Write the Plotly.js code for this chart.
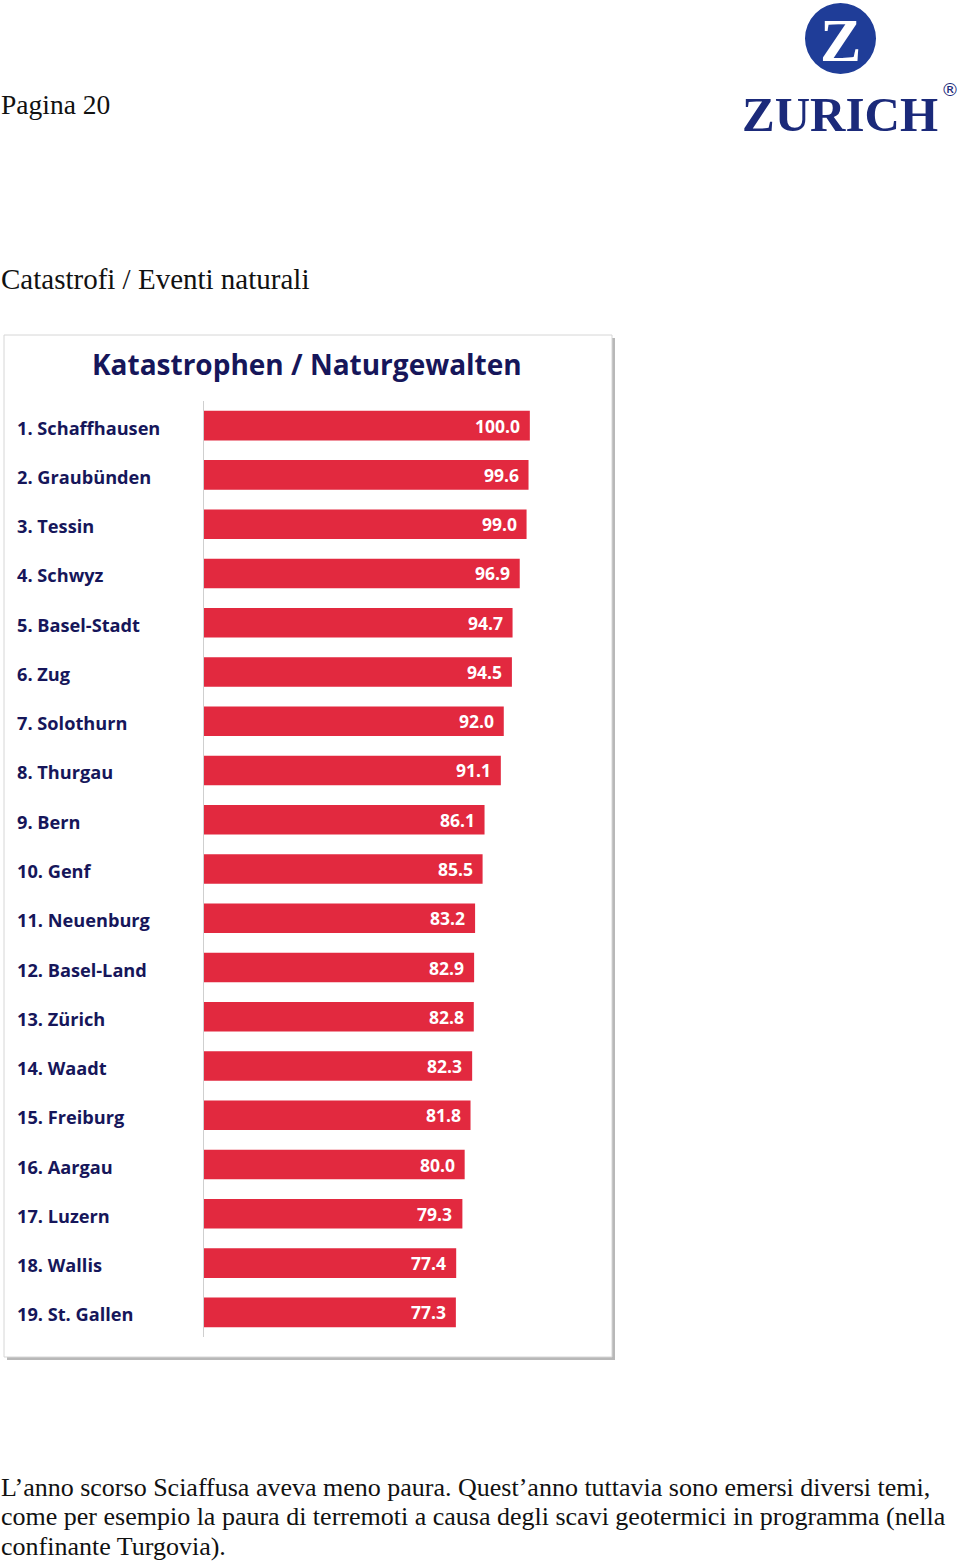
<!DOCTYPE html>
<html>
<head>
<meta charset="utf-8">
<script src="https://cdn.plot.ly/plotly-3.0.1.min.js"></script>
<style>
html,body{margin:0;padding:0;background:#fff;}
#chart{width:960px;height:1565px;}
</style>
</head>
<body>
<div id="chart"></div>
<script>
// ---- data ----
const categories = [
  "1. Schaffhausen","2. Graubünden","3. Tessin","4. Schwyz","5. Basel-Stadt",
  "6. Zug","7. Solothurn","8. Thurgau","9. Bern","10. Genf",
  "11. Neuenburg","12. Basel-Land","13. Zürich","14. Waadt","15. Freiburg",
  "16. Aargau","17. Luzern","18. Wallis","19. St. Gallen"
];
const values = [100.0, 99.6, 99.0, 96.9, 94.7, 94.5, 92.0, 91.1, 86.1, 85.5,
                83.2, 82.9, 82.8, 82.3, 81.8, 80.0, 79.3, 77.4, 77.3];
const chartTitle = "Katastrophen / Naturgewalten";
const pageLabel = "Pagina 20";
const sectionTitle = "Catastrofi / Eventi naturali";
const paragraphLines = [
  "L’anno scorso Sciaffusa aveva meno paura. Quest’anno tuttavia sono emersi diversi temi,",
  "come per esempio la paura di terremoti a causa degli scavi geotermici in programma (nella",
  "confinante Turgovia)."
];

// ---- layout helpers (pixel -> paper) ----
const W = 960, H = 1565;
const px = x => x / W;
const py = y => 1 - y / H;

const RED = "#e2293f";
const NAVY = "#16165a";

const trace = {
  type: "bar",
  orientation: "h",
  x: values,
  y: categories,
  marker: {color: RED, line: {width: 0}},
  width: 0.6,
  hoverinfo: "skip",
  showlegend: false
};

const annotations = [];
// category labels (left aligned)
categories.forEach(c => {
  annotations.push({
    xref: "paper", yref: "y", x: px(15), y: c, xanchor: "left", yanchor: "middle",
    text: c, showarrow: false, yshift: -2,
    font: {family: "Open Sans", size: 18.2, color: NAVY, weight: 700}
  });
});
// value labels inside bar ends
values.forEach((v, i) => {
  annotations.push({
    xref: "x", yref: "y", x: v, y: categories[i], xanchor: "right", yanchor: "middle",
    text: v.toFixed(1), showarrow: false, xshift: -8,
    font: {family: "Open Sans", size: 17.5, color: "#ffffff", weight: 700}
  });
});
// chart title
annotations.push({
  xref: "paper", yref: "paper", x: px(307), y: py(364), xanchor: "center", yanchor: "middle",
  text: chartTitle, showarrow: false,
  font: {family: "Open Sans", size: 28, color: NAVY, weight: 700}
});
// page texts
annotations.push({
  xref: "paper", yref: "paper", x: px(-1), y: py(105), xanchor: "left", yanchor: "middle",
  text: pageLabel, showarrow: false,
  font: {family: "Liberation Serif", size: 27.5, color: "#111"}
});
annotations.push({
  xref: "paper", yref: "paper", x: px(-1), y: py(279), xanchor: "left", yanchor: "middle",
  text: sectionTitle, showarrow: false,
  font: {family: "Liberation Serif", size: 29, color: "#111"}
});
paragraphLines.forEach((t, i) => {
  annotations.push({
    xref: "paper", yref: "paper", x: px(-1), y: py(1487 + i * 29.5), xanchor: "left", yanchor: "middle",
    text: t, showarrow: false,
    font: {family: "Liberation Serif", size: 26, color: "#111"}
  });
});
// logo texts
annotations.push({
  xref: "paper", yref: "paper", x: px(840), y: py(40), xanchor: "center", yanchor: "middle",
  text: "Z", showarrow: false,
  font: {family: "Liberation Serif", size: 62, color: "#ffffff", weight: 700}
});
annotations.push({
  xref: "paper", yref: "paper", x: px(840), y: py(115), xanchor: "center", yanchor: "middle",
  text: "ZURICH", showarrow: false,
  font: {family: "Liberation Serif", size: 49, color: "#1b2a7a", weight: 700}
});
annotations.push({
  xref: "paper", yref: "paper", x: px(950), y: py(89), xanchor: "center", yanchor: "middle",
  text: "®", showarrow: false,
  font: {family: "DejaVu Sans", size: 18, color: "#1b2a7a"}
});

const shapes = [
  // shadow
  {type: "rect", xref: "paper", yref: "paper", x0: px(7), x1: px(615), y0: py(338), y1: py(1360),
   fillcolor: "#b8b8b8", line: {width: 0}, layer: "below"},
  // box
  {type: "rect", xref: "paper", yref: "paper", x0: px(4), x1: px(612), y0: py(335), y1: py(1357),
   fillcolor: "#ffffff", line: {color: "#d6d6d6", width: 1}, layer: "below"},
  // logo circle
  {type: "circle", xref: "paper", yref: "paper", x0: px(805), x1: px(876), y0: py(3), y1: py(74),
   fillcolor: "#1f3d98", line: {width: 0}, layer: "below"}
];

const layout = {
  width: W, height: H,
  margin: {l: 0, r: 0, t: 0, b: 0},
  paper_bgcolor: "#ffffff",
  plot_bgcolor: "rgba(0,0,0,0)",
  xaxis: {
    domain: [px(204), px(595)],
    range: [0, 120],
    showgrid: false, zeroline: false, showticklabels: false, ticks: "", showline: false,
    fixedrange: true
  },
  yaxis: {
    domain: [py(1337), py(401)],
    type: "category",
    categoryorder: "array", categoryarray: categories,
    range: [categories.length - 0.5, -0.5],
    showgrid: false, zeroline: false, showticklabels: false, ticks: "",
    showline: true, linecolor: "#cfcfcf", linewidth: 1,
    fixedrange: true
  },
  bargap: 0.4,
  annotations: annotations,
  shapes: shapes
};

Plotly.newPlot("chart", [trace], layout, {displayModeBar: false, staticPlot: true});
</script>
</body>
</html>
